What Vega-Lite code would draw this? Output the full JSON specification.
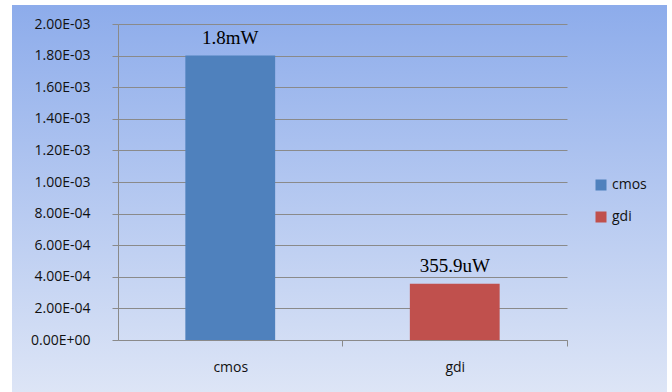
{
  "$schema": "https://vega.github.io/schema/vega-lite/v6.json",
  "width": 655,
  "height": 387,
  "autosize": {"type": "none"},
  "padding": {"left": 12, "top": 5, "right": 5, "bottom": 0},
  "background": "white",
  "config": {
    "font": "Open Sans",
    "view": {
      "stroke": null,
      "fill": {
        "gradient": "linear",
        "x1": 0, "y1": 0, "x2": 0, "y2": 1,
        "stops": [
          {"offset": 0, "color": "#8DACEB"},
          {"offset": 1, "color": "#DDE5F6"}
        ]
      }
    }
  },
  "data": {
    "values": [
      {"device": "cmos", "power": 0.0018, "label": "1.8mW"},
      {"device": "gdi", "power": 0.0003559, "label": "355.9uW"}
    ]
  },
  "encoding": {
    "x": {
      "field": "device",
      "type": "nominal",
      "sort": ["cmos", "gdi"],
      "scale": {"range": [106, 555], "paddingInner": 0.6, "paddingOuter": 0.3},
      "axis": {
        "title": null,
        "orient": "bottom",
        "offset": -52,
        "labelAngle": 0,
        "tickOffset": 112,
        "labelOffset": -112,
        "tickSize": 6,
        "domainColor": "#8a8a8a",
        "tickColor": "#8a8a8a",
        "labelFont": "Open Sans",
        "labelFontSize": 14,
        "labelColor": "#111111",
        "labelPadding": 14,
        "grid": false
      }
    },
    "y": {
      "field": "power",
      "type": "quantitative",
      "scale": {"domain": [0, 0.002], "range": [335, 19], "nice": false},
      "axis": {
        "title": null,
        "offset": -106,
        "values": [0, 0.0002, 0.0004, 0.0006, 0.0008, 0.001, 0.0012, 0.0014, 0.0016, 0.0018, 0.002],
        "labelExpr": "replace(replace(format(datum.value, '.2e'), 'e-', 'E-0'), 'e+', 'E+0')",
        "tickSize": 6,
        "labelPadding": 22,
        "labelFont": "Open Sans",
        "labelFontSize": 14,
        "labelColor": "#111111",
        "domainColor": "#8a8a8a",
        "tickColor": "#8a8a8a",
        "grid": true,
        "gridColor": "#8a8a8a",
        "gridOpacity": 1
      }
    }
  },
  "layer": [
    {
      "mark": {"type": "bar"},
      "encoding": {
        "color": {
          "field": "device",
          "type": "nominal",
          "scale": {"domain": ["cmos", "gdi"], "range": ["#4F81BD", "#C0504D"]},
          "legend": {
            "title": null,
            "orient": "none",
            "legendX": 582,
            "legendY": 173,
            "symbolType": "square",
            "symbolSize": 121,
            "symbolStrokeWidth": 0,
            "symbolOpacity": 1,
            "labelFont": "Open Sans",
            "labelFontSize": 14,
            "labelColor": "#111111",
            "labelOffset": 4,
            "rowPadding": 18
          }
        }
      }
    },
    {
      "mark": {
        "type": "text",
        "font": "Liberation Serif",
        "fontSize": 19,
        "baseline": "alphabetic",
        "dy": -12,
        "color": "#000000"
      },
      "encoding": {
        "text": {"field": "label"}
      }
    }
  ]
}
